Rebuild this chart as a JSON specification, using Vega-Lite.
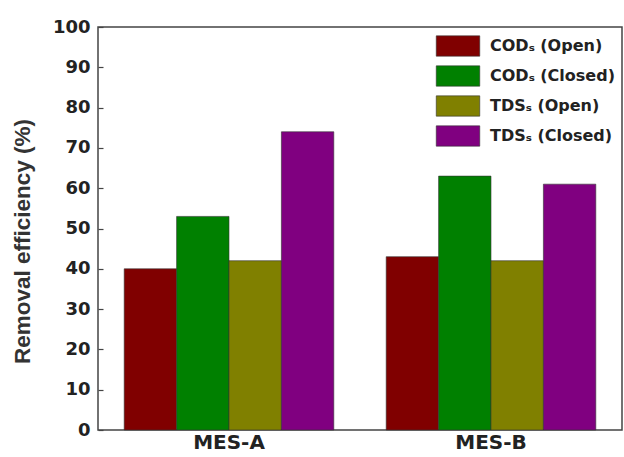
{
  "$schema": "https://vega.github.io/schema/vega-lite/v6.json",
  "width": 524,
  "height": 403,
  "autosize": {"type": "none"},
  "padding": {"left": 98, "top": 27, "right": 2, "bottom": 27},
  "background": "white",
  "config": {
    "view": {"stroke": "#444", "strokeWidth": 1.5},
    "font": "Liberation Sans"
  },
  "data": {
    "values": [
      {"group": "MES-A", "series": "CODₛ (Open)", "value": 40},
      {"group": "MES-A", "series": "CODₛ (Closed)", "value": 53},
      {"group": "MES-A", "series": "TDSₛ (Open)", "value": 42},
      {"group": "MES-A", "series": "TDSₛ (Closed)", "value": 74},
      {"group": "MES-B", "series": "CODₛ (Open)", "value": 43},
      {"group": "MES-B", "series": "CODₛ (Closed)", "value": 63},
      {"group": "MES-B", "series": "TDSₛ (Open)", "value": 42},
      {"group": "MES-B", "series": "TDSₛ (Closed)", "value": 61}
    ]
  },
  "mark": {"type": "bar", "stroke": "#333", "strokeWidth": 0.6},
  "encoding": {
    "x": {
      "field": "group", "type": "nominal",
      "scale": {"paddingInner": 0, "paddingOuter": 0},
      "axis": {"title": null, "labelAngle": 0, "ticks": false, "domain": false, "labelFont": "DejaVu Sans", "labelFontWeight": "bold", "labelFontSize": 20, "labelColor": "#222", "labelPadding": 2}
    },
    "xOffset": {
      "field": "series", "type": "nominal",
      "sort": ["CODₛ (Open)", "CODₛ (Closed)", "TDSₛ (Open)", "TDSₛ (Closed)"],
      "scale": {"paddingInner": 0, "paddingOuter": 0.5}
    },
    "y": {
      "field": "value", "type": "quantitative",
      "scale": {"domain": [0, 100], "nice": false},
      "axis": {"title": "Removal efficiency (%)", "values": [0,10,20,30,40,50,60,70,80,90,100], "grid": false, "domain": false, "tickSize": -5, "tickColor": "#444", "tickWidth": 1.2, "labelPadding": 13, "labelFont": "DejaVu Sans", "labelFontWeight": "bold", "labelFontSize": 18, "labelColor": "#222", "titleFont": "Liberation Sans", "titleFontSize": 22.5, "titleFontWeight": "bold", "titleColor": "#333", "titleX": -76, "titleY": 214, "titleAngle": 270, "titleAlign": "center", "titleBaseline": "middle"}
    },
    "color": {
      "field": "series", "type": "nominal",
      "sort": ["CODₛ (Open)", "CODₛ (Closed)", "TDSₛ (Open)", "TDSₛ (Closed)"],
      "scale": {"range": ["#800000", "#008000", "#808000", "#800080"]},
      "legend": {"title": null, "orient": "none", "legendX": 345, "legendY": 4, "padding": 0, "symbolType": "M-1.5,-0.7H1.5V0.7H-1.5Z", "symbolSize": 841, "symbolStrokeColor": "#333", "symbolStrokeWidth": 0.6, "symbolOpacity": 1, "labelFont": "DejaVu Sans", "labelFontWeight": "bold", "labelFontSize": 16, "labelColor": "#222", "rowPadding": 3, "labelOffset": 17}
    }
  }
}
